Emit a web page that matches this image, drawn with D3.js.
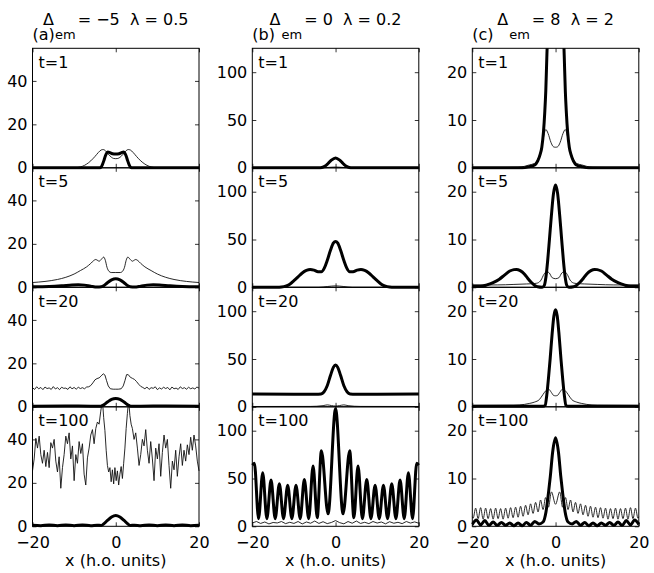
<!DOCTYPE html>
<html>
<head>
<meta charset="utf-8">
<script src="https://cdn.jsdelivr.net/npm/d3@7"></script>
<style>
  body { margin: 0; background: #fff; }
  svg text { font-family: "DejaVu Sans", "Liberation Sans", Arial, sans-serif; fill: #000; }
</style>
</head>
<body>
<svg id="chart" width="654" height="573"></svg>
<script>
// ---- data ----
const xTicks = [-20, 0, 20];
const times = [1, 5, 20, 100];
const panelLetters = ['a', 'b', 'c'];
const deltas = [-5, 0, 8];
const lambdas = [0.5, 0.2, 2];
const yMax = [55, 125, 25];
const yTicksA = [0, 20, 40];
const yTicksB = [0, 50, 100];
const yTicksC = [0, 10, 20];

// column (a)  Delta = -5, lambda = 0.5
const a1Thick = [[-20,0],[-4,0],[-3.6,0.2],[-3.2,1.5],[-2.8,3.6],[-2.5,5.4],[-2.2,6.7],[-1.9,7.3],[-1.4,7.0],[-0.8,6.5],[0,6.3],[0.8,6.5],[1.4,7.0],[1.9,7.3],[2.2,6.7],[2.5,5.4],[2.8,3.6],[3.2,1.5],[3.6,0.2],[4,0],[20,0]];
const a1Thin = [[-20,0],[-10,0],[-9,0.2],[-8,0.7],[-7,1.7],[-6,3.2],[-5,5.2],[-4.2,7.0],[-3.5,8.2],[-3.0,8.4],[-2.5,7.9],[-1.8,6.3],[-1.0,4.8],[-0.5,4.3],[0,4.2],[0.5,4.3],[1.0,4.8],[1.8,6.3],[2.5,7.9],[3.0,8.4],[3.5,8.2],[4.2,7.0],[5,5.2],[6,3.2],[7,1.7],[8,0.7],[9,0.2],[10,0],[20,0]];
const a5Thick = [[-20,0.3],[-16,0.4],[-13,0.7],[-10.5,1.1],[-9,1.2],[-7.5,1.0],[-6,0.5],[-4.5,0.1],[-3.5,0.2],[-2.8,0.8],[-2,2.1],[-1,3.4],[0,3.9],[1,3.4],[2,2.1],[2.8,0.8],[3.5,0.2],[4.5,0.1],[6,0.5],[7.5,1.0],[9,1.2],[10.5,1.1],[13,0.7],[16,0.4],[20,0.3]];
const a5Thin = [[-20,2.2],[-17,2.7],[-14,3.6],[-12,4.6],[-10,6.1],[-8.5,7.7],[-7,9.4],[-6,11.0],[-5.3,12.3],[-4.8,12.8],[-4.3,12.3],[-4.0,12.0],[-3.5,12.8],[-2.9,13.9],[-2.5,12.4],[-2.1,9.2],[-1.6,7.3],[-1.1,6.8],[0,6.8],[1.1,6.8],[1.6,7.3],[2.1,9.2],[2.5,12.4],[2.9,13.9],[3.5,12.8],[4.0,12.0],[4.3,12.3],[4.8,12.8],[5.3,12.3],[6,11.0],[7,9.4],[8.5,7.7],[10,6.1],[12,4.6],[14,3.6],[17,2.7],[20,2.2]];
const a20Thick = [[-20,0.3],[-12,0.4],[-6,0.3],[-3.6,0.3],[-3,0.8],[-2,2.2],[-1,3.4],[0,3.8],[1,3.4],[2,2.2],[3,0.8],[3.6,0.3],[6,0.3],[12,0.4],[20,0.3]];
const a20Thin = [[-20,8.8],[-19.5,8.0],[-19,9.2],[-18.5,8.3],[-18,8.9],[-17.5,7.9],[-17,9.1],[-16.5,8.4],[-16,8.7],[-15.5,8.0],[-15,9.3],[-14.5,8.2],[-14,8.8],[-13.5,7.9],[-13,9.0],[-12.5,8.5],[-12,8.6],[-11.5,8.0],[-11,9.2],[-10.5,8.3],[-10,8.9],[-9.5,8.1],[-9,9.0],[-8.5,8.4],[-8,8.8],[-7.5,8.3],[-7,9.1],
  [-6.5,9.2],[-6,9.8],[-5.5,11.0],[-5.0,12.4],[-4.5,13.0],[-4.0,13.3],[-3.5,14.2],[-3.0,15.2],[-2.6,14.6],[-2.2,12.0],[-1.8,9.6],[-1.3,8.3],[-0.6,8.1],[0,8.1],[0.6,8.1],[1.3,8.3],[1.8,9.6],[2.2,12.0],[2.6,14.8],[3.0,14.8],[3.5,13.6],[4.0,13.1],[4.5,12.6],[5,11.6],[5.5,10.4],[6,9.4],[6.5,8.9],
  [7,8.3],[7.5,9.1],[8,8.0],[8.5,8.8],[9,8.5],[9.5,9.2],[10,7.9],[10.5,8.7],[11,8.2],[11.5,9.0],[12,8.4],[12.5,8.9],[13,7.8],[13.5,9.1],[14,8.3],[14.5,8.6],[15,8.0],[15.5,9.2],[16,8.4],[16.5,8.8],[17,8.1],[17.5,9.0],[18,8.3],[18.5,8.7],[19,8.2],[19.5,9.1],[20,8.6]];
const a100Thick = [[-20,0.5],[-18,0.3],[-16,0.6],[-14,0.3],[-12,0.6],[-10,0.3],[-8,0.6],[-6,0.3],[-4.5,0.5],[-3.5,0.4],[-3,0.9],[-2,2.7],[-1,4.3],[0,5.0],[1,4.3],[2,2.7],[3,0.9],[3.5,0.4],[4.5,0.5],[6,0.3],[8,0.6],[10,0.3],[12,0.6],[14,0.3],[16,0.6],[18,0.3],[20,0.5]];
const a100Thin = [[-20,25.5],[-19.6,31],[-19.2,40.5],[-18.8,36],[-18.4,41.5],[-18,33],[-17.6,29],[-17.2,35],[-16.8,27.5],[-16.4,34],[-16,27],[-15.6,38.5],[-15.2,36],[-14.8,40],[-14.4,30],[-14,25],[-13.6,32],[-13.2,17.5],[-12.8,27],[-12.4,33],[-12,41.5],[-11.6,38],[-11.2,43],[-10.8,31],[-10.4,37],[-10,21],[-9.6,33],[-9.2,29],[-8.8,39],[-8.4,33.5],[-8,38],[-7.6,24],[-7.2,19],[-6.8,31.5],[-6.4,36],[-6,42],[-5.6,44.5],[-5.2,38],[-4.8,45],[-4.4,48],[-4,47],[-3.6,53],[-3.2,58],[-2.9,50],[-2.6,44],[-2.3,35],[-2,28],[-1.7,25],[-1.4,27],[-1.1,20.5],[-0.8,26],[-0.5,19.5],[-0.2,27],[0.1,21],[0.4,25.5],[0.7,19],[1,24],[1.3,27.5],[1.6,22],[1.9,29],[2.2,36],[2.5,45],[2.8,52],[3.1,58],[3.4,51],[3.7,47],[4,45],[4.4,40],[4.8,43],[5.2,36],[5.6,28],[6,33],[6.4,40],[6.8,37],[7.2,44.5],[7.6,35],[8,29],[8.4,39],[8.8,31],[9.2,21],[9.6,36],[10,31],[10.4,38],[10.8,23],[11.2,34],[11.6,42],[12,36],[12.4,40],[12.8,28],[13.2,17.5],[13.6,30],[14,26],[14.4,35],[14.8,23],[15.2,32],[15.6,38],[16,28],[16.4,35],[16.8,30],[17.2,37.5],[17.6,33],[18,41],[18.4,35],[18.8,42],[19.2,37],[19.6,30],[20,25.5]];

// column (b)  Delta = 0, lambda = 0.2
const b1Thick = [[-20,0],[-4,0],[-3.3,0.3],[-2.5,1.8],[-1.8,4.5],[-1,8],[0,10.3],[1,8],[1.8,4.5],[2.5,1.8],[3.3,0.3],[4,0],[20,0]];
const b1Thin = [[-20,0],[-3,0],[-1.5,0.5],[0,0.8],[1.5,0.5],[3,0],[20,0]];
const b5Thick = [[-20,0],[-14,0],[-13,0.3],[-12,1.2],[-11,3.3],[-10,7],[-9,11],[-8,15],[-7,17.6],[-6.1,18.6],[-5.2,18.0],[-4.2,16.3],[-3.4,16.2],[-2.7,20],[-2,28],[-1.2,39],[-0.5,46.5],[0,48],[0.5,46.5],[1.2,39],[2,28],[2.7,20],[3.4,16.2],[4.2,16.3],[5.2,18.0],[6.1,18.6],[7,17.6],[8,15],[9,11],[10,7],[11,3.3],[12,1.2],[13,0.3],[14,0],[20,0]];
const b5Thin = [[-20,0],[-4,0],[-2,0.8],[0,1.5],[2,0.8],[4,0],[20,0]];
const b20Thick = [[-20,13.3],[-10,13.0],[-5,13.2],[-3.5,13.5],[-2.8,15.5],[-2,22],[-1.2,33],[-0.5,41.5],[0,43.8],[0.5,41.5],[1.2,33],[2,22],[2.8,15.5],[3.5,13.5],[5,13.2],[10,13.0],[20,13.3]];
const b20Thin = [[-20,0.3],[-6,0.4],[-3,1.2],[-2,2],[-1,1.3],[0,0.8],[1,1.3],[2,2],[3,1.2],[6,0.4],[20,0.3]];
const b100Thick = [[-20,64],[-19.5,66],[-18.5,8],[-17.5,56],[-16.5,8],[-15.5,48.4],[-14.5,8],[-13.5,44.6],[-12.5,8],[-11.5,43],[-10.5,8],[-9.5,43],[-8.5,8],[-7.5,49],[-6.45,8],[-5.4,63],[-4.4,9],[-3.4,79],[-1.8,13],[0,123],[1.8,13],[3.4,79],[4.4,9],[5.4,63],[6.45,8],[7.5,49],[8.5,8],[9.5,43],[10.5,8],[11.5,43],[12.5,8],[13.5,44.6],[14.5,8],[15.5,48.4],[16.5,8],[17.5,56],[18.5,8],[19.5,66],[20,64]];
const b100Thin = [[-20,3.5],[-19,5],[-18,3],[-17,4.5],[-16,2.5],[-15,4],[-14,3.5],[-13,5],[-12,2.8],[-11,4.2],[-10,3],[-9,5],[-8,2.5],[-7,4.5],[-6,3.2],[-5,5.5],[-4,3],[-3,4.8],[-2,2.8],[-1,4],[0,6],[1,3.8],[2,2.6],[3,5],[4,3.2],[5,5.5],[6,3],[7,4.2],[8,2.8],[9,5],[10,3.4],[11,4.5],[12,2.6],[13,4.8],[14,3.2],[15,4.2],[16,2.8],[17,5],[18,3.4],[19,4.6],[20,3.2]];

// column (c)  Delta = 8, lambda = 2
const c1Thick = [[-20,0],[-8,0],[-6.5,0.2],[-5,0.6],[-4.3,1.4],[-3.7,2.8],[-3.3,4.3],[-2.9,7.5],[-2.6,11.5],[-2.35,16],[-2.1,23],[-1.8,31],[-1.2,44],[0,52],[1.2,44],[1.8,31],[2.1,23],[2.35,16],[2.6,11.5],[2.9,7.5],[3.3,4.3],[3.7,2.8],[4.3,1.4],[5,0.6],[6.5,0.2],[8,0],[20,0]];
const c1Thin = [[-20,0],[-9,0.1],[-7.5,0.3],[-6.3,0.6],[-5.1,0.9],[-4.4,1.6],[-3.9,2.5],[-3.3,4.5],[-2.8,6.8],[-2.35,8.0],[-1.8,7.2],[-1.1,5.3],[-0.5,4.4],[0,4.3],[0.5,4.4],[1.1,5.3],[1.8,7.2],[2.35,8.0],[2.8,6.8],[3.3,4.5],[3.9,2.5],[4.4,1.6],[5.1,0.9],[6.3,0.6],[7.5,0.3],[9,0.1],[20,0]];
const c5Thick = [[-20,0.2],[-18,0.2],[-16.5,0.5],[-15,1.0],[-13.5,1.7],[-12.2,2.6],[-11,3.4],[-10,3.7],[-9.4,3.75],[-8.5,3.5],[-7.5,2.8],[-6.7,1.9],[-5.8,1.0],[-5,0.4],[-4.3,0.1],[-3.2,0],[-2.7,0.4],[-2.3,2.2],[-1.9,5.5],[-1.45,10.2],[-1,15],[-0.5,19.6],[0,21.4],[0.5,19.6],[1,15],[1.45,10.2],[1.9,5.5],[2.3,2.2],[2.7,0.4],[3.2,0],[4.3,0.1],[5,0.4],[5.8,1.0],[6.7,1.9],[7.5,2.8],[8.5,3.5],[9.4,3.75],[10,3.7],[11,3.4],[12.2,2.6],[13.5,1.7],[15,1.0],[16.5,0.5],[18,0.2],[20,0.2]];
const c5Thin = [[-20,0.5],[-14,0.5],[-10,0.6],[-7,0.7],[-5,0.8],[-4.3,0.9],[-3.5,1.5],[-2.8,2.7],[-2.1,3.3],[-1.5,3.0],[-0.8,2.0],[0,1.8],[0.8,2.0],[1.5,3.0],[2.1,3.3],[2.8,2.7],[3.5,1.5],[4.3,0.9],[5,0.8],[7,0.7],[10,0.6],[14,0.5],[20,0.5]];
const c20Thick = [[-20,0.1],[-4,0.1],[-3,0.1],[-2.5,0.3],[-2.1,2.5],[-1.7,6],[-1.3,10],[-0.8,15.5],[-0.4,19],[0,20.3],[0.4,19],[0.8,15.5],[1.3,10],[1.7,6],[2.1,2.5],[2.5,0.3],[3,0.1],[4,0.1],[20,0.1]];
const c20Thin = [[-20,0.3],[-10,0.35],[-7.5,0.5],[-6.3,0.7],[-5,1.0],[-3.9,1.5],[-3,2.6],[-2.3,3.4],[-1.7,3.7],[-1.0,3.0],[-0.5,2.4],[0,2.3],[0.5,2.4],[1.0,3.0],[1.7,3.7],[2.3,3.4],[3,2.6],[3.9,1.5],[5,1.0],[6.3,0.7],[7.5,0.5],[10,0.35],[20,0.3]];
const c100Thick = [[-20,0.4],[-19,1.3],[-18,0.3],[-17,1.2],[-16,0.2],[-15,0.9],[-14,0.2],[-13,0.8],[-12,0.2],[-11,0.7],[-10,0.1],[-9,0.7],[-8,0.1],[-7,0.8],[-6,0.2],[-5,1.0],[-4,0.5],[-3,0.9],[-2.3,3],[-1.7,7],[-1.25,10.5],[-0.7,15.5],[0,18.5],[0.7,15.5],[1.25,10.5],[1.7,7],[2.3,3],[3,0.9],[4,0.5],[5,1.0],[6,0.2],[7,0.8],[8,0.1],[9,0.7],[10,0.1],[11,0.7],[12,0.2],[13,0.8],[14,0.2],[15,0.9],[16,0.2],[17,1.2],[18,0.3],[19,1.3],[20,0.4]];
const c100Thin = [[-20,2.0],[-19.8,1.7],[-19.2,3.8],[-18.6,1.6],[-18,3.9],[-17.4,1.5],[-16.8,3.8],[-16.2,1.6],[-15.6,3.7],[-15,1.5],[-14.4,3.8],[-13.8,1.6],[-13.2,3.7],[-12.6,1.5],[-12,3.8],[-11.4,1.7],[-10.8,3.9],[-10.2,1.8],[-9.6,4.0],[-9,1.9],[-8.4,4.2],[-7.8,2.1],[-7.2,4.4],[-6.6,2.4],[-6,4.7],[-5.4,2.7],[-4.8,5.0],[-4.2,3.0],[-3.6,5.5],[-3,3.5],[-2.4,6.0],[-1.7,4.0],[-1,7.2],[0,4.6],[1,7.2],[1.7,4.0],[2.4,6.0],[3,3.5],[3.6,5.5],[4.2,3.0],[4.8,5.0],[5.4,2.7],[6,4.7],[6.6,2.4],[7.2,4.4],[7.8,2.1],[8.4,4.2],[9,1.9],[9.6,4.0],[10.2,1.8],[10.8,3.9],[11.4,1.7],[12,3.8],[12.6,1.5],[13.2,3.7],[13.8,1.6],[14.4,3.8],[15,1.5],[15.6,3.7],[16.2,1.6],[16.8,3.8],[17.4,1.5],[18,3.9],[18.6,1.6],[19.2,3.8],[19.8,1.7],[20,2.0]];

// ---- layout ----
const PANEL_W = 166.5;
const PANEL_H = 119.5;
const TOP = 48.3;
const COL_LEFT = [32.5, 252.3, 472.3];
const FONT = 16;

const yTicks = [yTicksA, yTicksB, yTicksC];
const thickCurves = [
    [a1Thick, a5Thick, a20Thick, a100Thick],
    [b1Thick, b5Thick, b20Thick, b100Thick],
    [c1Thick, c5Thick, c20Thick, c100Thick]
];
const thinCurves = [
    [a1Thin, a5Thin, a20Thin, a100Thin],
    [b1Thin, b5Thin, b20Thin, b100Thin],
    [c1Thin, c5Thin, c20Thin, c100Thin]
];
// noisy series are drawn straight, the rest smoothed
const jagged = new Set([a20Thin, a100Thin, b100Thin]);

const fmt = v => v < 0 ? '\u2212' + Math.abs(v) : String(v);

const svg = d3.select('#chart');
const x = d3.scaleLinear().domain([-20, 20]).range([0, PANEL_W]);

panelLetters.forEach((letter, ci) => {
    const left = COL_LEFT[ci];
    const cx = left + PANEL_W / 2;
    const y = d3.scaleLinear().domain([0, yMax[ci]]).range([PANEL_H, 0]);

    // column title:  Delta_em = .. lambda = ..
    const title = svg.append('text')
        .attr('x', cx)
        .attr('y', 25)
        .attr('text-anchor', 'middle')
        .style('font-size', FONT + 'px')
        .style('white-space', 'pre');
    title.append('tspan').text('\u0394');
    title.append('tspan').attr('dy', 14).attr('dx', 1).style('font-size', '13px').text('em');
    title.append('tspan').attr('dy', -14).attr('dx', 2)
        .text(`= ${fmt(deltas[ci])}  \u03bb = ${lambdas[ci]}`);

    svg.append('text')
        .attr('x', left)
        .attr('y', 40)
        .style('font-size', FONT + 'px')
        .text(`(${letter})`);

    times.forEach((t, ri) => {
        const top = TOP + ri * PANEL_H;
        const g = svg.append('g').attr('transform', `translate(${left},${top})`);
        const clipId = `clip-${ci}-${ri}`;

        g.append('clipPath').attr('id', clipId)
            .append('rect')
            .attr('x', -1).attr('y', 0)
            .attr('width', PANEL_W + 2).attr('height', PANEL_H + 2);

        const plot = g.append('g').attr('clip-path', `url(#${clipId})`);

        const thin = thinCurves[ci][ri];
        const thick = thickCurves[ci][ri];
        const lineFor = data => d3.line()
            .x(d => x(d[0]))
            .y(d => y(d[1]))
            .curve(jagged.has(data) ? d3.curveLinear : d3.curveMonotoneX)(data);

        plot.append('path')
            .attr('d', lineFor(thin))
            .attr('fill', 'none')
            .attr('stroke', '#111')
            .attr('stroke-width', 0.9)
            .attr('stroke-linejoin', 'round');

        plot.append('path')
            .attr('d', lineFor(thick))
            .attr('fill', 'none')
            .attr('stroke', '#000')
            .attr('stroke-width', 3)
            .attr('stroke-linejoin', 'round');

        // axes: MATLAB-style inner ticks on all four sides
        const leftAxis = g.append('g')
            .call(d3.axisLeft(y).tickValues(yTicks[ci]).tickSize(-4).tickPadding(5).tickFormat(fmt));
        const rightAxis = g.append('g')
            .attr('transform', `translate(${PANEL_W},0)`)
            .call(d3.axisRight(y).tickValues(yTicks[ci]).tickSize(-4).tickFormat(''));
        const topAxis = g.append('g')
            .call(d3.axisTop(x).tickValues(xTicks).tickSize(-4).tickFormat(''));
        const bottomAxis = g.append('g')
            .attr('transform', `translate(0,${PANEL_H})`)
            .call(d3.axisBottom(x).tickValues(xTicks).tickSize(-4).tickPadding(10)
                .tickFormat(ri === times.length - 1 ? fmt : ''));

        [leftAxis, rightAxis, topAxis, bottomAxis].forEach(a => {
            a.attr('font-family', null).attr('font-size', null);
            a.select('.domain').remove();
            a.selectAll('.tick line').attr('stroke', '#000').attr('stroke-width', 0.8);
            a.selectAll('text').style('font-size', FONT + 'px').attr('fill', '#000');
        });

        g.append('rect')
            .attr('width', PANEL_W)
            .attr('height', PANEL_H)
            .attr('fill', 'none')
            .attr('stroke', '#000')
            .attr('stroke-width', 1);

        g.append('text')
            .attr('x', 6)
            .attr('y', 19.5)
            .style('font-size', FONT + 'px')
            .text(`t=${t}`);
    });

    svg.append('text')
        .attr('x', cx)
        .attr('y', 566)
        .attr('text-anchor', 'middle')
        .style('font-size', FONT + 'px')
        .text('x (h.o. units)');
});
</script>
</body>
</html>
